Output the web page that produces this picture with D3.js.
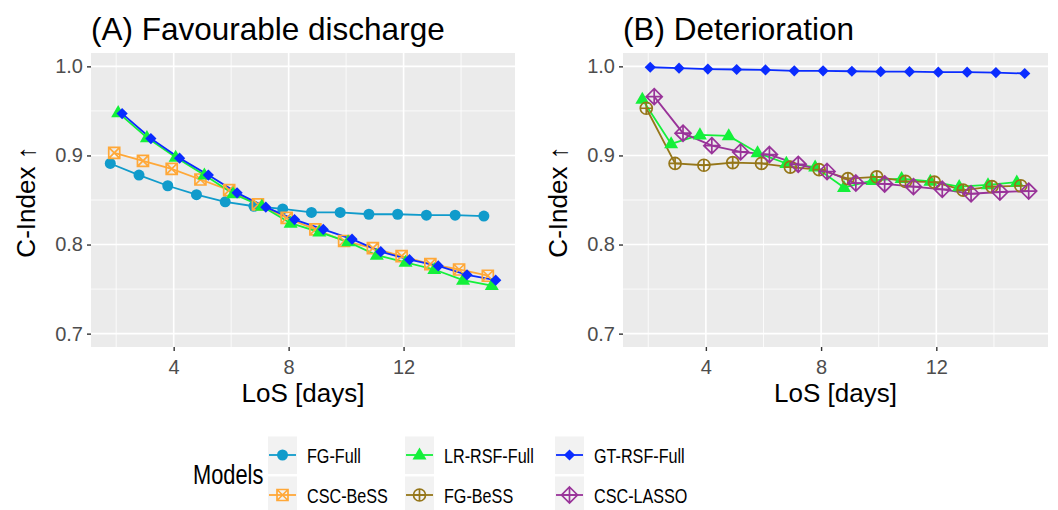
<!DOCTYPE html>
<html>
<head>
<meta charset="utf-8">
<script src="https://cdn.jsdelivr.net/npm/d3@7"></script>
<style>
  body { margin: 0; background: #fff; }
  svg text { font-family: "Liberation Sans", Arial, Helvetica, sans-serif; }
</style>
</head>
<body>
<div id="wrapper"></div>
<script>
// data
const days = [2, 3, 4, 5, 6, 7, 8, 9, 10, 11, 12, 13, 14, 15]
const xTicks = [4, 8, 12]
const xMinorTicks = [2, 6, 10, 14]
const yTicks = [0.7, 0.8, 0.9, 1.0]
const yMinorTicks = [0.75, 0.85, 0.95]

const models = ["FG-Full", "CSC-BeSS", "LR-RSF-Full", "FG-BeSS", "GT-RSF-Full", "CSC-LASSO"]

// (A) Favourable discharge
const fgFullA   = [0.891, 0.878, 0.866, 0.856, 0.848, 0.843, 0.840, 0.836, 0.836, 0.834, 0.834, 0.833, 0.833, 0.832]
const cscBessA  = [0.903, 0.894, 0.885, 0.873, 0.861, 0.845, 0.830, 0.817, 0.804, 0.796, 0.787, 0.778, 0.772, 0.765]
const lrRsfA    = [0.948, 0.920, 0.898, 0.878, 0.857, 0.843, 0.824, 0.814, 0.803, 0.788, 0.780, 0.772, 0.760, 0.754]
const gtRsfA    = [0.947, 0.919, 0.897, 0.878, 0.858, 0.842, 0.828, 0.817, 0.806, 0.792, 0.783, 0.776, 0.766, 0.760]

// (B) Deterioration
const lrRsfB    = [0.963, 0.913, 0.923, 0.922, 0.903, 0.891, 0.887, 0.864, 0.872, 0.874, 0.871, 0.865, 0.867, 0.870]
const fgBessB   = [0.953, 0.891, 0.889, 0.892, 0.891, 0.887, 0.884, 0.874, 0.876, 0.871, 0.870, 0.861, 0.865, 0.866]
const gtRsfB    = [0.999, 0.998, 0.997, 0.9965, 0.996, 0.995, 0.995, 0.9945, 0.994, 0.994, 0.9935, 0.9935, 0.993, 0.992]
const cscLassoB = [0.966, 0.925, 0.911, 0.904, 0.901, 0.890, 0.882, 0.869, 0.868, 0.865, 0.862, 0.857, 0.859, 0.860]

const panelsData = [
  { title: "(A) Favourable discharge", series: [
    { model: "FG-Full", values: fgFullA },
    { model: "CSC-BeSS", values: cscBessA },
    { model: "LR-RSF-Full", values: lrRsfA },
    { model: "GT-RSF-Full", values: gtRsfA },
  ]},
  { title: "(B) Deterioration", series: [
    { model: "LR-RSF-Full", values: lrRsfB },
    { model: "FG-BeSS", values: fgBessB },
    { model: "GT-RSF-Full", values: gtRsfB },
    { model: "CSC-LASSO", values: cscLassoB },
  ]},
]

// styles
const colors = {
  "FG-Full": "#109bcb",
  "CSC-BeSS": "#ffa838",
  "LR-RSF-Full": "#14f03a",
  "FG-BeSS": "#957619",
  "GT-RSF-Full": "#0a2cff",
  "CSC-LASSO": "#993399",
}

const shapes = {
  "FG-Full": { d: d3.symbol(d3.symbolCircle, Math.PI * 5.5 * 5.5)(), filled: true },
  "LR-RSF-Full": { d: "M0,-7.6L7,4.5L-7,4.5Z", filled: true },
  "GT-RSF-Full": { d: "M0,-5.6L5.6,0L0,5.6L-5.6,0Z", filled: true },
  "CSC-BeSS": { d: "M-5.5,-5.5H5.5V5.5H-5.5ZM-5.5,-5.5L5.5,5.5M5.5,-5.5L-5.5,5.5", filled: false },
  "FG-BeSS": { d: d3.symbol(d3.symbolCircle, Math.PI * 36)() + "M-6,0H6M0,-6V6", filled: false },
  "CSC-LASSO": { d: "M0,-8L8,0L0,8L-8,0ZM-8,0H8M0,-8V8", filled: false },
}

// dimensions
const dimensions = { width: 1058, height: 510 }
const panelBoxes = [
  { left: 91, right: 515, top: 53, bottom: 347 },
  { left: 623, right: 1048, top: 53, bottom: 347 },
]
const dodgeWidth = 0.55

const svg = d3.select("#wrapper").append("svg")
  .attr("width", dimensions.width)
  .attr("height", dimensions.height)

const dodge = (i, n) => (i + 0.5) * dodgeWidth / n - dodgeWidth / 2

// shared scales, ggplot-style 5% expansion
const xExtent = [d3.min(days) - dodgeWidth * 3 / 8, d3.max(days) + dodgeWidth * 3 / 8]
const xPad = (xExtent[1] - xExtent[0]) * 0.05
const yLimits = [0.7, 1.0]
const yPad = (yLimits[1] - yLimits[0]) * 0.05

panelsData.forEach((panel, p) => {
  const box = panelBoxes[p]
  const xScale = d3.scaleLinear()
    .domain([xExtent[0] - xPad, xExtent[1] + xPad])
    .range([box.left, box.right])
  const yScale = d3.scaleLinear()
    .domain([yLimits[0] - yPad, yLimits[1] + yPad])
    .range([box.bottom, box.top])

  const g = svg.append("g")

  g.append("rect")
    .attr("x", box.left).attr("y", box.top)
    .attr("width", box.right - box.left).attr("height", box.bottom - box.top)
    .attr("fill", "#ebebeb")

  // grid
  g.selectAll(".xminor").data(xMinorTicks).join("line")
    .attr("x1", d => xScale(d)).attr("x2", d => xScale(d))
    .attr("y1", box.top).attr("y2", box.bottom)
    .attr("stroke", "#fff").attr("stroke-width", 0.8)
  g.selectAll(".yminor").data(yMinorTicks).join("line")
    .attr("y1", d => yScale(d)).attr("y2", d => yScale(d))
    .attr("x1", box.left).attr("x2", box.right)
    .attr("stroke", "#fff").attr("stroke-width", 0.8)
  g.selectAll(".xmajor").data(xTicks).join("line")
    .attr("x1", d => xScale(d)).attr("x2", d => xScale(d))
    .attr("y1", box.top).attr("y2", box.bottom)
    .attr("stroke", "#fff").attr("stroke-width", 1.6)
  g.selectAll(".ymajor").data(yTicks).join("line")
    .attr("y1", d => yScale(d)).attr("y2", d => yScale(d))
    .attr("x1", box.left).attr("x2", box.right)
    .attr("stroke", "#fff").attr("stroke-width", 1.6)

  // axes
  const xAxis = g.append("g")
    .attr("transform", `translate(0,${box.bottom})`)
    .call(d3.axisBottom(xScale).tickValues(xTicks).tickSize(4).tickPadding(5).tickFormat(d3.format("d")))
  const yAxis = g.append("g")
    .attr("transform", `translate(${box.left},0)`)
    .call(d3.axisLeft(yScale).tickValues(yTicks).tickSize(4).tickPadding(4).tickFormat(d3.format(".1f")))
  ;[xAxis, yAxis].forEach(a => {
    a.select(".domain").remove()
    a.selectAll(".tick line").attr("stroke", "#333").attr("stroke-width", 1.4)
    a.selectAll(".tick text").attr("fill", "#4d4d4d").style("font-size", "20px")
  })
  xAxis.selectAll(".tick text").attr("dy", "0.9em")

  // titles
  g.append("text")
    .attr("x", box.left).attr("y", 40)
    .style("font-size", "31.5px").attr("fill", "#000")
    .text(panel.title)
  g.append("text")
    .attr("x", (box.left + box.right) / 2).attr("y", 402)
    .attr("text-anchor", "middle")
    .style("font-size", "26px")
    .text("LoS [days]")
  g.append("text")
    .attr("transform", `translate(${box.left - 56},${(box.top + box.bottom) / 2 + 2}) rotate(-90)`)
    .attr("text-anchor", "middle")
    .style("font-size", "26px")
    .text("C-Index ↑")

  // data
  const n = panel.series.length
  const line = d3.line()
    .x(d => xScale(d.x))
    .y(d => yScale(d.y))

  const seriesPoints = panel.series.map((s, i) => ({
    model: s.model,
    points: days.map((day, k) => ({ x: day + dodge(i, n), y: s.values[k] })),
  }))

  seriesPoints.forEach(s => {
    g.append("path")
      .attr("d", line(s.points))
      .attr("fill", "none")
      .attr("stroke", colors[s.model])
      .attr("stroke-width", 1.8)
  })
  seriesPoints.forEach(s => {
    const shape = shapes[s.model]
    g.selectAll(null).data(s.points).join("path")
      .attr("transform", d => `translate(${xScale(d.x)},${yScale(d.y)})`)
      .attr("d", shape.d)
      .attr("fill", shape.filled ? colors[s.model] : "none")
      .attr("stroke", shape.filled ? "none" : colors[s.model])
      .attr("stroke-width", 1.7)
  })
})

// legend
const legend = svg.append("g")
const legendCols = [268, 405, 555]
const legendRows = [455, 495]
const keyW = 29, keyH = 37

legend.append("text")
  .attr("transform", `translate(193,484) scale(0.78,1)`)
  .style("font-size", "28px")
  .text("Models")

models.forEach((m, i) => {
  const col = Math.floor(i / 2), row = i % 2
  const kx = legendCols[col], cy = legendRows[row]
  legend.append("rect")
    .attr("x", kx).attr("y", cy - keyH / 2)
    .attr("width", keyW).attr("height", keyH + 0.5)
    .attr("fill", "#f2f2f2")
  legend.append("line")
    .attr("x1", kx + 1).attr("x2", kx + keyW - 1)
    .attr("y1", cy).attr("y2", cy)
    .attr("stroke", colors[m]).attr("stroke-width", 1.8)
  const shape = shapes[m]
  legend.append("path")
    .attr("transform", `translate(${kx + keyW / 2},${cy})`)
    .attr("d", shape.d)
    .attr("fill", shape.filled ? colors[m] : "none")
    .attr("stroke", shape.filled ? "none" : colors[m])
    .attr("stroke-width", 1.7)
  legend.append("text")
    .attr("transform", `translate(${kx + keyW + 10},${cy + 7.5}) scale(0.77,1)`)
    .style("font-size", "21px")
    .text(m)
})
</script>
</body>
</html>
